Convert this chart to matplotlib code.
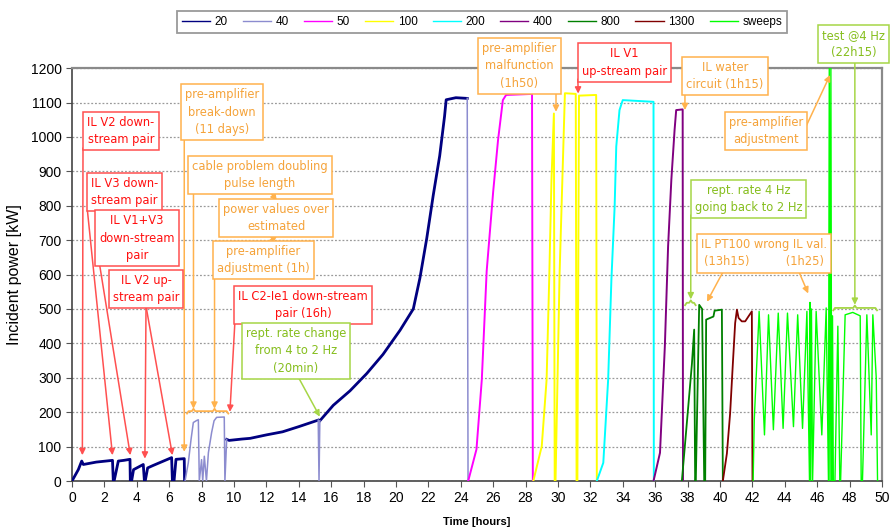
import numpy as np
import matplotlib.pyplot as plt

nan = np.nan

# ---- data (time in hours, power in kW) ----
t20 = [0, 0.39, 0.6, 0.7, 1.5, 2.5, 2.55, 2.6, 2.86, 3.2, 3.58, 3.6, 3.68, 3.8, 4.4, 4.47,
       4.52, 4.67, 5.0, 5.5, 6.15, 6.2, 6.3, 6.42, 6.93, 6.95, nan,
       9.55, 9.7, 10.5, 11.0, 12.0, 13.0, 14.0, 15.2, nan,
       15.3, 16.13, 17.16, 18.19, 19.2, 20.25, 21.07, 21.48, 21.9, 22.3, 22.7, 23.0, 23.1, 23.7, 24.4]
p20 = [0, 33, 58, 48, 55, 60, 0, 0, 58, 60, 63, 0, 0, 33, 48, 0,
       0, 38, 45, 55, 68, 0, 0, 63, 65, 0, nan,
       121, 118, 122, 124, 134, 143, 158, 177, nan,
       175, 220, 262, 312, 368, 438, 500, 590, 705, 830, 945, 1060, 1108, 1114, 1112]

t40 = [6.98, 7.18, 7.35, 7.49, 7.7, 7.8, 7.86, 8.0, 8.07, 8.17, 8.3, 8.42, 8.62, 8.77, 8.93,
       9.4, 9.44, 9.55, nan, 15.2, 15.25, 15.3, nan, 24.4, 24.45]
p40 = [0, 53, 121, 170, 176, 178, 0, 62, 0, 72, 0, 82, 141, 175, 185,
       186, 0, 121, nan, 177, 0, 175, nan, 1112, 0]

t50 = [24.46, 24.97, 25.3, 25.6, 26.0, 26.3, 26.6, 26.8, 28.4, 28.45]
p50 = [0, 92, 295, 610, 840, 990, 1107, 1122, 1125, 0]

t100 = [28.48, 29.0, 29.3, 29.46, 29.6, 29.75, 29.8, 29.85, 30.1, 30.43, 31.1, 31.15,
        31.2, 31.3, 32.36, 32.4]
p100 = [0, 101, 295, 585, 875, 1068, 0, 0, 600, 1127, 1125, 0,
        0, 1120, 1122, 0]

t200 = [32.4, 32.8, 33.1, 33.3, 33.5, 33.6, 33.8, 34.0, 35.9, 35.92]
p200 = [0, 53, 295, 585, 798, 972, 1078, 1107, 1102, 0]

t400 = [35.9, 36.3, 36.6, 36.8, 37.0, 37.2, 37.3, 37.7, 37.72]
p400 = [0, 82, 392, 682, 875, 1020, 1078, 1080, 0]

t800 = [37.65, 38.27, 38.41, 38.47, 38.51, 38.72, 38.9, 39.03, 39.09, 39.15, 39.6, 39.67,
        40.12, 40.18]
p800 = [0, 340, 440, 0, 0, 512, 500, 0, 0, 469, 478, 495, 498, 0]

t1300 = [40.18, 40.43, 40.63, 40.8, 40.94, 41.05, 41.15, 41.35, 41.56, 41.77, 41.97, 42.01]
p1300 = [0, 80, 197, 343, 459, 498, 474, 464, 464, 479, 493, 0]

tsw = [42.05, 42.12, 42.42, 42.75, 43.0, 43.3, 43.6, 43.9, 44.17, 44.54, 44.8, 45.1, 45.37,
       45.53, 45.56, 45.6, 45.65, 45.72, 45.94, 46.29, 46.56, 46.7, 46.75, 46.8, 46.85,
       46.9, 46.95, 47.0, 47.1, 47.28, 47.4, 47.45, 47.73, 48.2, 48.66, 48.72, 48.8, 49.07,
       49.34, 49.44, 49.65, 49.73]
psw = [0, 178, 493, 134, 483, 149, 488, 153, 488, 158, 483, 153, 493,
       0, 519, 0, 500, 0, 493, 134, 503, 0, 1200, 0, 1200,
       0, 480, 0, 0, 450, 0, 0, 483, 490, 480, 0, 0, 483,
       134, 483, 300, 0]

series = [("20", "#000080", t20, p20, 2.0),
          ("40", "#8C8CCF", t40, p40, 1.1),
          ("50", "#FF00FF", t50, p50, 1.4),
          ("100", "#FFFF00", t100, p100, 1.4),
          ("200", "#00FFFF", t200, p200, 1.4),
          ("400", "#800080", t400, p400, 1.4),
          ("800", "#008000", t800, p800, 1.3),
          ("1300", "#800000", t1300, p1300, 1.3),
          ("sweeps", "#00FF00", tsw, psw, 1.0)]

RED = ("#FF1010", "#FF5050")
ORANGE = ("#F5A33A", "#FFB24D")
GREEN = ("#86BE1E", "#A6D646")

# boxed notes: text, centre (t, P), colours
notes = [
    ("IL V2 down-\nstream pair", (3.02, 1017), RED),
    ("IL V3 down-\nstream pair", (3.24, 840), RED),
    ("IL V1+V3\ndown-stream\npair", (4.01, 706), RED),
    ("IL V2 up-\nstream pair", (4.57, 558), RED),
    ("pre-amplifier\nbreak-down\n(11 days)", (9.26, 1072), ORANGE),
    ("cable problem doubling\npulse length", (11.6, 889), ORANGE),
    ("power values over\nestimated", (12.6, 764), ORANGE),
    ("pre-amplifier\nadjustment (1h)", (11.8, 642), ORANGE),
    ("IL C2-Ie1 down-stream\npair (16h)", (14.26, 511), RED),
    ("rept. rate change\nfrom 4 to 2 Hz\n(20min)", (13.83, 378), GREEN),
    ("pre-amplifier\nmalfunction\n(1h50)", (27.62, 1207), ORANGE),
    ("IL V1\nup-stream pair", (34.1, 1216), RED),
    ("IL water\ncircuit (1h15)", (40.3, 1177), ORANGE),
    ("pre-amplifier\nadjustment", (42.84, 1017), ORANGE),
    ("test @4 Hz\n(22h15)", (48.27, 1270), GREEN),
    ("rept. rate 4 Hz\ngoing back to 2 Hz", (41.76, 819), GREEN),
    ("IL PT100 wrong IL val.\n(13h15)          (1h25)", (42.7, 662), ORANGE),
]

# arrows: start -> tip, colour
arrows = [
    ((0.68, 968), (0.64, 75), RED),
    ((0.95, 787), (2.5, 75), RED),
    ((1.69, 633), (3.6, 75), RED),
    ((4.57, 508), (4.5, 65), RED),
    ((4.57, 508), (6.2, 75), RED),
    ((6.93, 1000), (6.93, 85), ORANGE),
    ((7.5, 843), (7.5, 210), ORANGE),
    ((8.8, 593), (8.8, 210), ORANGE),
    ((12.2, 843), (12.65, 814), ORANGE),
    ((11.9, 689), (12.7, 715), ORANGE),
    ((10.06, 465), (9.75, 201), RED),
    ((13.9, 308), (15.3, 187), GREEN),
    ((29.88, 1165), (29.88, 1073), ORANGE),
    ((31.23, 1168), (31.25, 1126), RED),
    ((37.84, 1130), (37.84, 1078), ORANGE),
    ((45.3, 1029), (46.8, 1180), ORANGE),
    ((48.33, 1220), (48.33, 512), GREEN),
    ((38.2, 773), (38.2, 528), GREEN),
    ((40.25, 613), (39.2, 521), ORANGE),
    ((44.83, 613), (45.45, 545), ORANGE),
]

# braces: start, end, level, cusp positions, colour
braces = [
    (7.1, 9.65, 203, [7.5, 8.8], ORANGE),
    (37.85, 38.5, 518, [38.2], GREEN),
    (47.0, 49.7, 503, [48.33], GREEN),
]


def draw_brace(ax, t0, t1, level, cusps, color, h=7.0, w=0.1):
    xs = [t0, t0 + w]
    ys = [level - h, level]
    for c in cusps:
        xs += [c - w, c, c + w]
        ys += [level, level + h, level]
    xs += [t1 - w, t1]
    ys += [level, level - h]
    ax.plot(xs, ys, color=color, lw=1.3, solid_joinstyle="round", zorder=5)


fig = plt.figure(figsize=(8.91, 5.28), dpi=100)
ax = fig.add_axes([0.0808, 0.089, 0.909, 0.782])

handles = []
for name, col, t, p, lw in series:
    (ln,) = ax.plot(t, p, color=col, lw=lw, label=name, zorder=3)
    handles.append(ln)

for text, (tc, pc), (tcol, ecol) in notes:
    ax.text(tc, pc, text, color=tcol, fontsize=8.3, family="DejaVu Sans",
            ha="center", va="center", linespacing=1.45, zorder=6,
            bbox=dict(boxstyle="square,pad=0.35", fc="white", ec=ecol, lw=1.1))

for start, tip, (tcol, ecol) in arrows:
    ax.annotate("", xy=tip, xytext=start, annotation_clip=False, zorder=4,
                arrowprops=dict(arrowstyle="-|>", color=ecol, lw=1.1,
                                mutation_scale=9, shrinkA=0, shrinkB=0))

for t0, t1, lvl, cusps, (tcol, ecol) in braces:
    draw_brace(ax, t0, t1, lvl, cusps, ecol)

ax.set_xlim(0, 50)
ax.set_ylim(0, 1200)
ax.set_xticks(range(0, 51, 2))
ax.set_yticks(range(0, 1201, 100))
ax.yaxis.grid(True, linestyle=(0, (1.5, 1.5)), color="#9a9a9a", lw=0.9)
ax.set_axisbelow(True)
for lab in ax.get_xticklabels():
    lab.set_fontfamily("Liberation Sans")
    lab.set_fontsize(10)
for lab in ax.get_yticklabels():
    lab.set_fontfamily("Liberation Sans")
    lab.set_fontsize(10)
ax.tick_params(length=4, color="#555555", direction="out")
for s in ("left", "bottom"):
    ax.spines[s].set_color("#444444")
    ax.spines[s].set_linewidth(1.2)
for s in ("top", "right"):
    ax.spines[s].set_color("#8a8a8a")
    ax.spines[s].set_linewidth(1.6)

ax.set_ylabel("Incident power [kW]", fontsize=11.5, family="Liberation Sans", labelpad=6)
ax.set_xlabel("Time [hours]", fontsize=8, family="Liberation Sans", fontweight="bold",
              labelpad=8)

leg = fig.legend(handles, [s[0] for s in series], loc="upper center",
                 bbox_to_anchor=(0.541, 0.99), ncol=9, frameon=True,
                 fancybox=False, edgecolor="#808080", handlelength=2.4, columnspacing=1.25,
                 handletextpad=0.4, borderpad=0.4,
                 prop={"family": "Liberation Sans", "size": 8.5})
leg.get_frame().set_linewidth(1.3)
for h in leg.legend_handles:
    h.set_linewidth(1.0)

fig.savefig("out.png", dpi=100)
